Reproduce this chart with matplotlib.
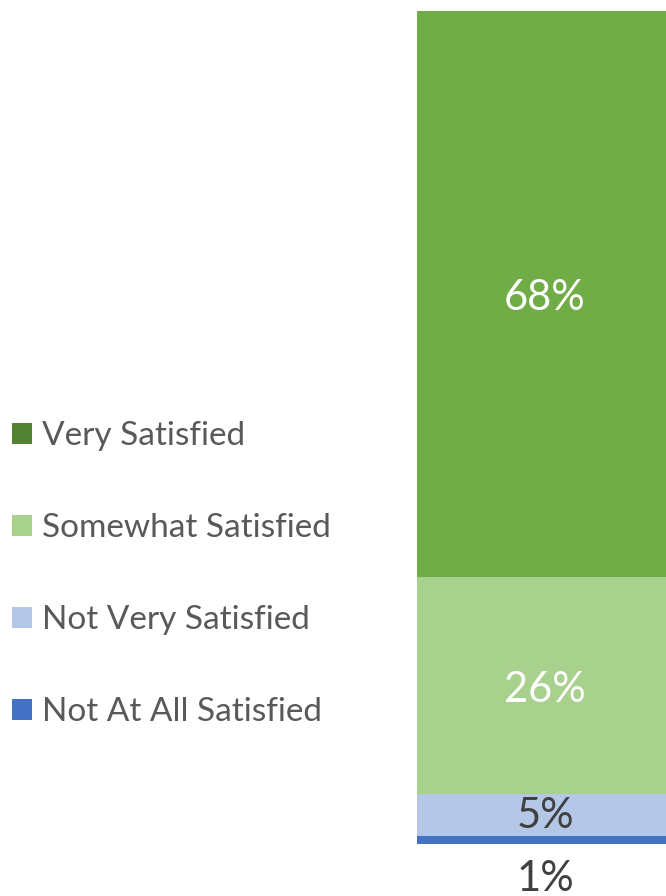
import matplotlib.pyplot as plt
from matplotlib.patches import Patch

# satisfaction shares, bottom to top
categories = ["Not At All Satisfied", "Not Very Satisfied", "Somewhat Satisfied", "Very Satisfied"]
values = [1, 5, 26, 68]
bar_colors = ["#4472C4", "#B4C7E7", "#A9D18E", "#70AD47"]
legend_colors = ["#4472C4", "#B4C7E7", "#A9D18E", "#548235"]
label_colors = ["#404040", "#404040", "white", "white"]

plt.rcParams["font.family"] = ["Lato", "DejaVu Sans"]

fig = plt.figure(figsize=(6.66, 8.96), dpi=100)
ax = fig.add_axes([417 / 666, 52 / 896, 256 / 666, 833 / 896])

bottom = 0
for cat, v, col, lc in zip(categories, values, bar_colors, label_colors):
    ax.bar(0, v, bottom=bottom, width=1, color=col, linewidth=0)
    if v < 3:
        # too thin to hold its label, so put it under the bar
        ax.annotate(f"{v}%", (0, bottom), xytext=(0, -25), textcoords="offset points",
                    ha="center", va="center", fontsize=30, color=lc)
    else:
        dy = -3 if v > 10 else -1
        ax.annotate(f"{v}%", (0, bottom + v / 2), xytext=(0, dy), textcoords="offset points",
                    ha="center", va="center", fontsize=30, color=lc)
    bottom += v

ax.set_xlim(-0.5, 0.5)
ax.set_ylim(0, 100)
ax.axis("off")

handles = [Patch(facecolor=c, edgecolor="none") for c in legend_colors[::-1]]
fig.legend(handles, categories[::-1], loc="center left", bbox_to_anchor=(12 / 666, 0.3595),
           frameon=False, fontsize=24, labelcolor="#595959", handlelength=0.6,
           handleheight=0.6, handletextpad=0.3, labelspacing=1.86,
           borderpad=0, borderaxespad=0)

fig.savefig("out.png", dpi=100)
